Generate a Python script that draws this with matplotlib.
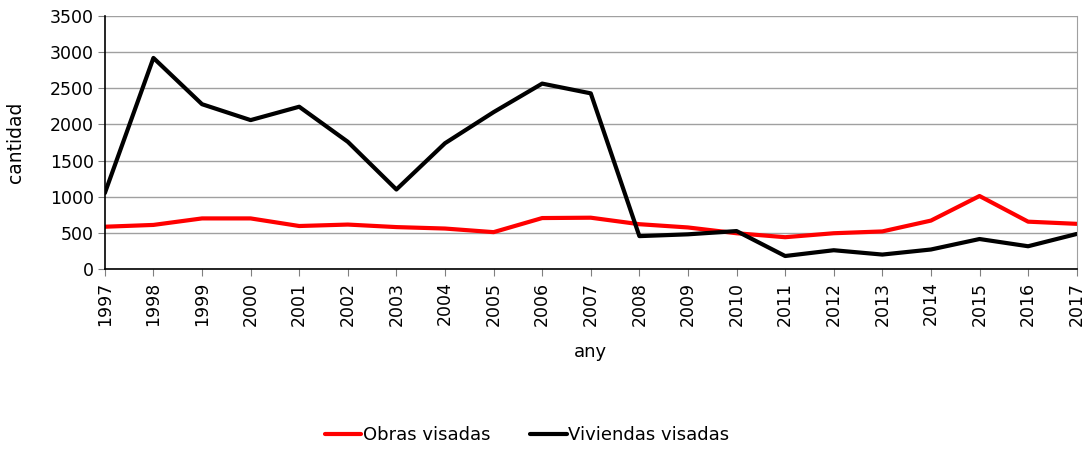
import matplotlib
matplotlib.use("Agg")
import matplotlib.pyplot as plt

years = list(range(1997, 2018))
obras = [585, 610, 700, 700, 595, 615, 580, 560, 510, 705, 710, 620, 575, 495,
         440, 495, 520, 670, 1010, 655, 625]
viviendas = [1050, 2920, 2280, 2060, 2245, 1760, 1100, 1740, 2170, 2565, 2430,
             455, 480, 525, 180, 260, 200, 270, 415, 315, 485]

plt.rcParams["font.family"] = ["DejaVu Sans"]

fig = plt.figure(figsize=(10.92, 4.51), dpi=100)
ax = fig.add_axes([0.096, 0.4035, 0.89, 0.561])

ax.plot(years, obras, color="#ff0000", lw=3, label="Obras visadas", solid_capstyle="round")
ax.plot(years, viviendas, color="black", lw=3, label="Viviendas visadas", solid_capstyle="round")

ax.set_xlim(1997, 2017)
ax.set_ylim(0, 3500)
ax.set_yticks(range(0, 3501, 500))
ax.set_xticks(years)
ax.set_xticklabels([str(y) for y in years], rotation=90)
ax.grid(axis="y", color="#a0a0a0", lw=1)
ax.set_axisbelow(True)

ax.spines["top"].set_visible(False)
ax.spines["right"].set_color("#a0a0a0")
ax.spines["left"].set_color("black")
ax.spines["bottom"].set_color("black")
ax.spines["left"].set_linewidth(1.2)
ax.spines["bottom"].set_linewidth(1.2)
ax.tick_params(axis="y", labelsize=12.5, color="#808080", length=5, pad=3)
ax.tick_params(axis="x", labelsize=12.5, color="#808080", length=5, pad=4)

ax.set_xlabel("any", fontsize=13, labelpad=12)
ax.set_ylabel("cantidad", fontsize=13.5, labelpad=18)

fig.legend(loc="center", bbox_to_anchor=(0.483, 0.035), ncol=2, frameon=False,
           fontsize=13, handlelength=2.0, handletextpad=0.1, columnspacing=2.2)

fig.savefig("out.png", dpi=100)
